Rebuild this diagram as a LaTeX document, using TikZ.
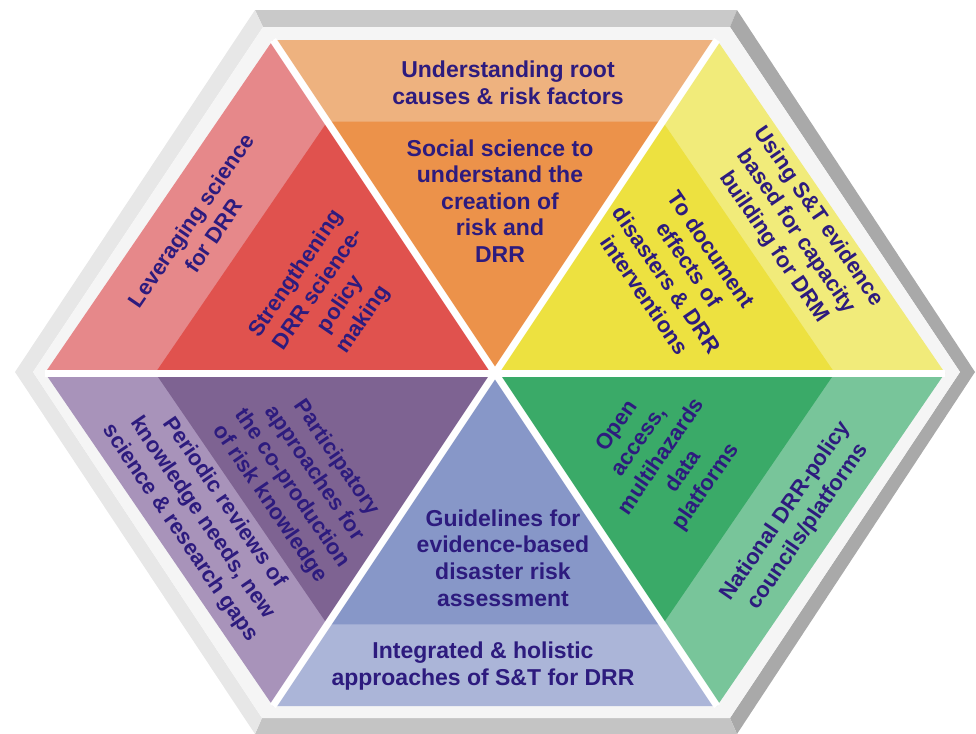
\documentclass[tikz,border=0pt]{standalone}
\usepackage{fontspec}
\setmainfont{Liberation Sans}
\usetikzlibrary{calc}
\definecolor{labelInk}{HTML}{2D1B7E}
\definecolor{frameTop}{HTML}{C9C9C9}
\definecolor{frameLight}{HTML}{E7E7E7}
\definecolor{frameDark}{HTML}{A9A9A9}
\definecolor{frameBottom}{HTML}{C4C4C4}
\definecolor{innerBand}{HTML}{F5F5F5}
\definecolor{redBand}{HTML}{E6888A}
\definecolor{redCore}{HTML}{E0524E}
\definecolor{orangeBand}{HTML}{EEB27F}
\definecolor{orangeCore}{HTML}{EC924A}
\definecolor{yellowBand}{HTML}{F1EB7A}
\definecolor{yellowCore}{HTML}{EDE140}
\definecolor{greenBand}{HTML}{78C59A}
\definecolor{greenCore}{HTML}{3AAA68}
\definecolor{blueBand}{HTML}{ABB5D8}
\definecolor{blueCore}{HTML}{8797C8}
\definecolor{purpleBand}{HTML}{A893BA}
\definecolor{purpleCore}{HTML}{7E6392}
\tikzset{
  sectortext/.style={font=\fontsize{11.5}{13.3}\selectfont\bfseries, text=labelInk,
                     align=center, inner sep=0pt},
  slanttext/.style={sectortext, font=\fontsize{11}{13.5}\selectfont\bfseries},
  uphill/.style={slanttext, rotate=55.6},
  downhill/.style={slanttext, rotate=-55.6},
  gapline/.style={draw=white, line width=3.5pt},
}
\newcommand{\coreScale}{0.755}

\begin{document}
\begin{tikzpicture}[x=0.5pt, y=-0.5pt]
\useasboundingbox (0,0) rectangle (976,734);

% ---------------------------------------------------------- the frame
\coordinate (o1) at (255,10);  \coordinate (o2) at (737,10);
\coordinate (o3) at (975,372); \coordinate (o4) at (737,734);
\coordinate (o5) at (255,734); \coordinate (o6) at (15,372);
\coordinate (i1) at (263,27);  \coordinate (i2) at (730,27);
\coordinate (i3) at (960,372); \coordinate (i4) at (730,718);
\coordinate (i5) at (262,718); \coordinate (i6) at (33,372);

\foreach \p/\q/\col in {1/2/frameTop, 2/3/frameDark, 3/4/frameDark,
                        4/5/frameBottom, 5/6/frameLight, 6/1/frameLight}
  \fill[\col] (o\p) -- (o\q) -- (i\q) -- (i\p) -- cycle;
\fill[innerBand] (i1) -- (i2) -- (i3) -- (i4) -- (i5) -- (i6) -- cycle;

% ------------------------------------------------------- the six sectors
\coordinate (c) at (495,373);
\coordinate (h1) at (273,40);  \coordinate (h2) at (717,40);
\coordinate (h3) at (945,373); \coordinate (h4) at (717,706);
\coordinate (h5) at (273,706); \coordinate (h6) at (45,373);

\foreach \p/\q/\band/\core in {1/2/orangeBand/orangeCore, 2/3/yellowBand/yellowCore,
                               3/4/greenBand/greenCore, 4/5/blueBand/blueCore,
                               5/6/purpleBand/purpleCore, 6/1/redBand/redCore}{
  \fill[\band] (c) -- (h\p) -- (h\q) -- cycle;
  \fill[\core] (c) -- ($(c)!\coreScale!(h\p)$) -- ($(c)!\coreScale!(h\q)$) -- cycle;}

% the white cuts between them
\foreach \p/\q in {1/4, 2/5, 3/6} \draw[gapline] (h\p) -- (h\q);

% ------------------------------------------------------------- the texts
\node[sectortext] (rootCauses) at (508,83) {Understanding root\\causes \& risk factors};
\node[sectortext] (socialScience) at (500,201)
  {Social science to\\understand the\\creation of\\risk and\\DRR};

\node[uphill] (leverage) at (202,228) {Leveraging science\\for DRR};
\node[uphill] (strengthen) at (330,297) {Strengthening\\DRR science-\\policy\\making};

\node[downhill] (capacity) at (796,232)
  {Using S\&T evidence\\based for capacity\\building for DRM};
\node[downhill] (document) at (678,272)
  {To document\\effects of\\disasters \& DRR\\interventions};

\node[uphill] (openAccess) at (662,457) {Open\\access,\\multihazards\\data\\platforms};
\node[uphill] (national) at (797,519) {National DRR-policy\\councils/platforms};

\node[sectortext] (guidelines) at (503,558)
  {Guidelines for\\evidence-based\\disaster risk\\assessment};
\node[sectortext] (integrated) at (483,666)
  {Integrated \& holistic\\approaches of S\&T for DRR};

\node[downhill] (participatory) at (303,481)
  {Participatory\\approaches for\\the co-production\\of risk knowledge};
\node[downhill] (periodic) at (202,518)
  {Periodic reviews of\\knowledge needs, new\\science \& research gaps};

\end{tikzpicture}
\end{document}
